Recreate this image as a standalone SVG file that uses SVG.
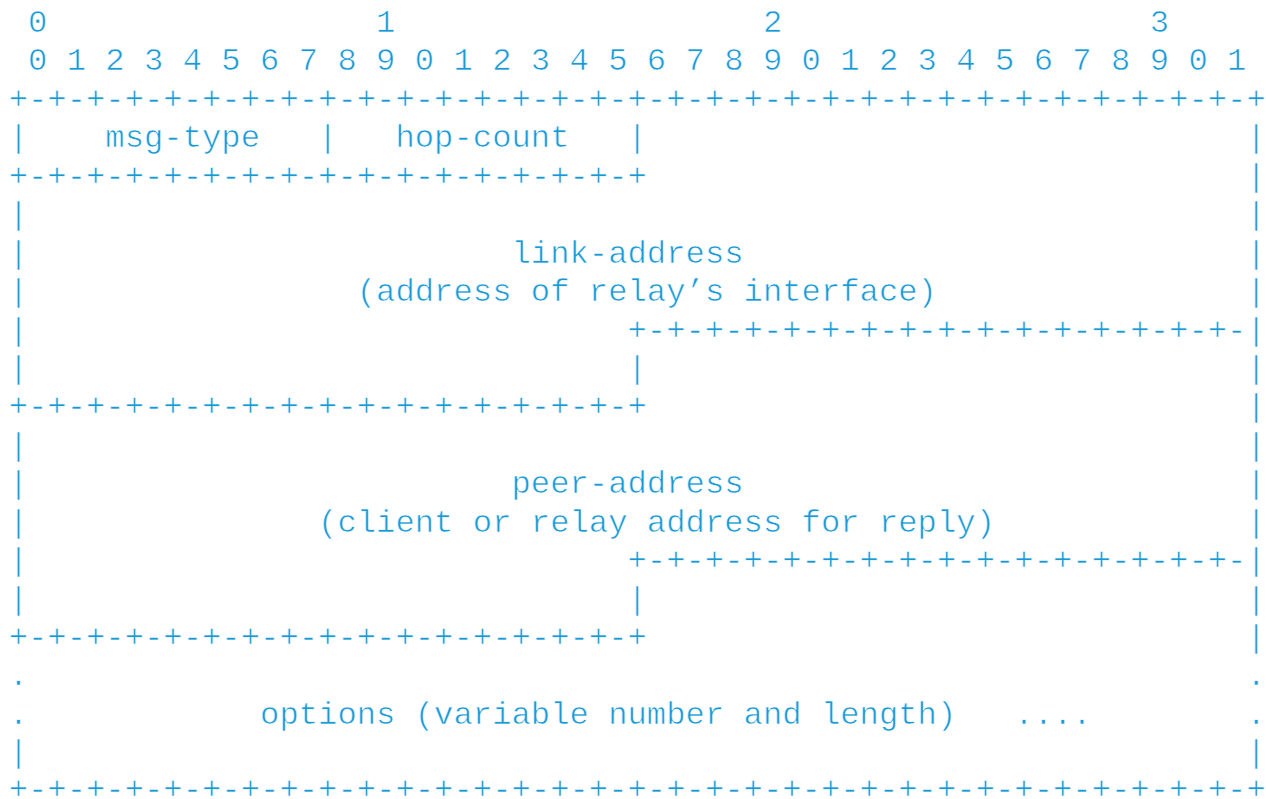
<svg xmlns="http://www.w3.org/2000/svg" width="1266" height="799" viewBox="0 0 1266 799">
  <style>
    text { font-family: "Liberation Mono", "Courier New", monospace; font-size: 32.2px; fill: #1799d6; white-space: pre; stroke: #ffffff; stroke-width: 0.6px; }
  </style>
  <rect width="1266" height="799" fill="#ffffff"/>
  <!-- column x = 8.63 + 19.34 * col ; baseline y = 32 + 38.44 * row -->
  <g id="bit-ruler">
    <text x="27.97" y="32">0</text>
    <text x="376.09" y="32">1</text>
    <text x="762.89" y="32">2</text>
    <text x="1149.69" y="32">3</text>
    <text x="27.97" y="70.44" textLength="1218.42" lengthAdjust="spacing">0 1 2 3 4 5 6 7 8 9 0 1 2 3 4 5 6 7 8 9 0 1 2 3 4 5 6 7 8 9 0 1</text>
  </g>
  <g id="frame">
    <text x="8.63" y="108.88" textLength="1257.1" lengthAdjust="spacing">+-+-+-+-+-+-+-+-+-+-+-+-+-+-+-+-+-+-+-+-+-+-+-+-+-+-+-+-+-+-+-+-+</text>
    <text x="1246.39" y="147.32">|</text>
    <text x="1246.39" y="185.76">|</text>
    <text x="8.63" y="224.2">|</text><text x="1246.39" y="224.2">|</text>
    <text x="8.63" y="262.64">|</text><text x="1246.39" y="262.64">|</text>
    <text x="8.63" y="301.08">|</text><text x="1246.39" y="301.08">|</text>
    <text x="8.63" y="339.52">|</text>
    <text x="8.63" y="377.96">|</text><text x="1246.39" y="377.96">|</text>
    <text x="1246.39" y="416.4">|</text>
    <text x="8.63" y="454.84">|</text><text x="1246.39" y="454.84">|</text>
    <text x="8.63" y="493.28">|</text><text x="1246.39" y="493.28">|</text>
    <text x="8.63" y="531.72">|</text><text x="1246.39" y="531.72">|</text>
    <text x="8.63" y="570.16">|</text>
    <text x="8.63" y="608.6">|</text><text x="1246.39" y="608.6">|</text>
    <text x="1246.39" y="647.04">|</text>
    <text x="8.63" y="685.48">.</text><text x="1246.39" y="685.48">.</text>
    <text x="8.63" y="723.92">.</text><text x="1246.39" y="723.92">.</text>
    <text x="8.63" y="762.36">|</text><text x="1246.39" y="762.36">|</text>
    <text x="8.63" y="798.5" textLength="1257.1" lengthAdjust="spacing">+-+-+-+-+-+-+-+-+-+-+-+-+-+-+-+-+-+-+-+-+-+-+-+-+-+-+-+-+-+-+-+-+</text>
  </g>
  <g id="msg-type-hop-count">
    <text x="8.63" y="147.32" textLength="638.22" lengthAdjust="spacing">|    msg-type   |   hop-count   |</text>
    <text x="8.63" y="185.76" textLength="638.22" lengthAdjust="spacing">+-+-+-+-+-+-+-+-+-+-+-+-+-+-+-+-+</text>
  </g>
  <g id="link-address">
    <text x="511.47" y="262.64" textLength="232.08" lengthAdjust="spacing">link-address</text>
    <text x="356.75" y="301.08" textLength="580.2" lengthAdjust="spacing">(address of relay’s interface)</text>
    <text x="627.51" y="339.52" textLength="638.22" lengthAdjust="spacing">+-+-+-+-+-+-+-+-+-+-+-+-+-+-+-+-|</text>
    <text x="627.51" y="377.96">|</text>
    <text x="8.63" y="416.4" textLength="638.22" lengthAdjust="spacing">+-+-+-+-+-+-+-+-+-+-+-+-+-+-+-+-+</text>
  </g>
  <g id="peer-address">
    <text x="511.47" y="493.28" textLength="232.08" lengthAdjust="spacing">peer-address</text>
    <text x="318.07" y="531.72" textLength="676.9" lengthAdjust="spacing">(client or relay address for reply)</text>
    <text x="627.51" y="570.16" textLength="638.22" lengthAdjust="spacing">+-+-+-+-+-+-+-+-+-+-+-+-+-+-+-+-|</text>
    <text x="627.51" y="608.6">|</text>
    <text x="8.63" y="647.04" textLength="638.22" lengthAdjust="spacing">+-+-+-+-+-+-+-+-+-+-+-+-+-+-+-+-+</text>
  </g>
  <g id="options">
    <text x="260.05" y="723.92" textLength="831.62" lengthAdjust="spacing">options (variable number and length)   ....</text>
  </g>
</svg>
